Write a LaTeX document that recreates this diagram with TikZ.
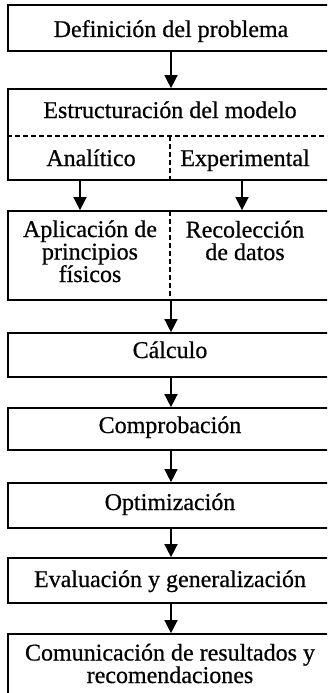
\documentclass[tikz,border=0pt]{standalone}
\usepackage{fontspec}
\setmainfont{Liberation Serif}
\newfontfamily\lblfont{Liberation Serif}[FakeBold=0.6]
\usetikzlibrary{arrows.meta}
\begin{document}
\begin{tikzpicture}[x=1pt,y=-1pt,
  box/.style={draw,line width=1.7pt,rectangle,inner sep=0pt,minimum width=326pt},
  lbl/.style={font=\lblfont\fontsize{24}{22.5}\selectfont,inner sep=0pt,anchor=base,align=center},
  arr/.style={line width=1.5pt,-{Triangle[length=13pt,width=13pt]}},
  dsh/.style={line width=1.5pt,dash pattern=on 5pt off 3pt}]
\clip (0,0) rectangle (327,693);
\fill[white] (0,0) rectangle (327,693);
% boxes
\node[box,minimum height=46pt] (b1) at (171,28) {};
\node[box,minimum height=91pt] (b2) at (171,134.5) {};
\node[box,minimum height=89pt] (b3) at (171,255.5) {};
\node[box,minimum height=44pt] (b4) at (171,355) {};
\node[box,minimum height=42pt] (b5) at (171,429) {};
\node[box,minimum height=45pt] (b6) at (171,505.5) {};
\node[box,minimum height=45pt] (b7) at (171,580.5) {};
\node[box,minimum height=76pt] (b8) at (171,672) {};
% dividers
\draw[dsh] (b2.west |- 0,136) -- (b2.east |- 0,136);
\draw[dsh] (170,136) -- (170,180);
\draw[dsh] (170,211) -- (170,300);
% labels
\node[lbl] (t1) at (171,37) {Definición del problema};
\node[lbl] (t2) at (170,118) {Estructuración del modelo};
\node[lbl] (t2a) at (91,166) {Analítico};
\node[lbl] (t2b) at (245,166) {Experimental};
\node[lbl] (t3a) at (90,282) {Aplicación de\\principios\\físicos};
\node[lbl] (t3b) at (245,260) {Recolección\\de datos};
\node[lbl] (t4) at (170,358) {Cálculo};
\node[lbl] (t5) at (170,433) {Comprobación};
\node[lbl] (t6) at (170,510) {Optimización};
\node[lbl] (t7) at (170,587) {Evaluación y generalización};
\node[lbl] (t8) at (170,683) {Comunicación de resultados y\\recomendaciones};
% arrows
\draw[arr] (b1.south) -- (b2.north);
\draw[arr] ([xshift=-91pt]b2.south) -- ([xshift=-91pt]b3.north);
\draw[arr] ([xshift=71pt]b2.south) -- ([xshift=71pt]b3.north);
\draw[arr] (b3.south) -- (b4.north);
\draw[arr] (b4.south) -- (b5.north);
\draw[arr] (b5.south) -- (b6.north);
\draw[arr] (b6.south) -- (b7.north);
\draw[arr] (b7.south) -- (b8.north);
\end{tikzpicture}
\end{document}
